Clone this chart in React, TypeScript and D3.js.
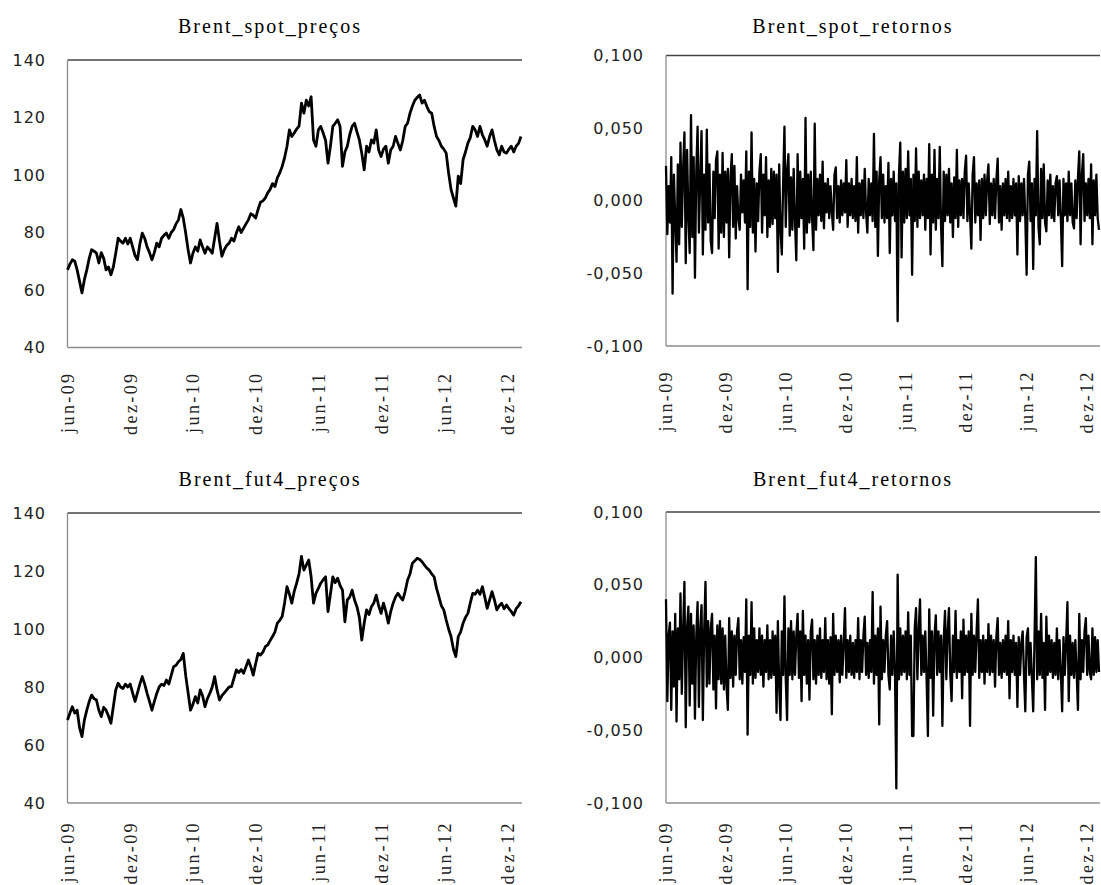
import React from "react";
import * as d3 from "d3";

// weekly closes, first week starting 1 jun 2009
const spotPrecos = [
  67, 69, 70.5, 70, 67, 63, 59, 63.6, 67, 71,
  74, 73.5, 72.8, 69.4, 73, 71, 67, 68, 65.3, 68,
  72.8, 78, 77, 76.3, 78, 76, 78, 75, 72, 70.5,
  76, 79.8, 78, 75, 73, 70.5, 73, 76.3, 75, 78,
  79, 79.8, 78, 80, 81, 83, 84.4, 88, 85, 79.8,
  74, 69.4, 72.8, 75, 73.5, 77.4, 75, 72.8, 75, 74,
  72.8, 78, 83.2, 77, 71.7, 74, 75.5, 76.3, 78, 77,
  79.8, 82, 80, 81.5, 83, 84.4, 86.5, 86, 85, 88,
  90.5, 91, 92, 93.8, 95, 97, 96, 99, 100.7, 103,
  106, 110, 115.7, 113.4, 114.6, 116, 117, 125, 121.5, 126,
  124, 127.2, 112.2, 110, 115.7, 116.9, 114.6, 112, 104.1, 110,
  116.9, 118, 119.2, 116.9, 103, 108, 110, 114, 116.9, 118,
  115, 112.2, 107.6, 101.8, 110, 108, 112.2, 111.1, 115.7, 108.7,
  106.4, 109, 110, 104.1, 108.7, 110, 113.4, 111, 108.7, 112,
  116.9, 118, 121.5, 124, 126, 127, 127.8, 125, 126, 123.8,
  122, 121.5, 116.9, 113.4, 112, 110, 109, 107.6, 100.7, 95,
  92, 89.2, 99.6, 97, 105.3, 108, 111.1, 113, 116.9, 115.7,
  113.4, 116.9, 114, 112.2, 110, 113.4, 115.7, 112, 108.7, 107,
  110, 108, 107.6, 109, 110, 108, 110, 111, 113.4,
];

const fut4Precos = [
  68.6, 71, 73.2, 71, 72, 66, 62.9, 68.6, 72, 75,
  77.2, 76, 75.5, 72, 69.8, 73, 72, 70, 67.5, 73.2,
  79, 81.3, 80, 79.5, 81, 80, 81, 78, 75, 78,
  81, 83.6, 81, 77.8, 75, 72, 75, 77.8, 80, 81,
  80.5, 82.4, 81, 84, 87, 87.5, 88.7, 89.5, 91.6, 84,
  78, 72, 74, 76.7, 74.5, 79, 77, 73.2, 76, 77.8,
  80, 83.6, 79, 75.5, 77, 78, 79, 80, 80.1, 83,
  85.9, 85, 86, 84.7, 87, 89.3, 87, 84.1, 88, 91.6,
  91, 92, 93.9, 94.5, 96, 97.4, 99, 102, 103, 104.3,
  109, 114.6, 112, 108.9, 113, 115.8, 119, 125, 120.3, 122,
  123.8, 118, 108.9, 112.3, 114, 115.8, 117, 118, 106, 112,
  118, 116, 117.5, 115, 113.4, 102.5, 110, 111, 113.4, 110,
  107.7, 104, 96.2, 102, 106.6, 105, 107.7, 109, 111.7, 108,
  105.4, 108.9, 106, 102, 106, 108.9, 111, 112.3, 111, 110,
  113, 116.9, 119, 122.7, 123.5, 124.4, 124, 123.2, 122, 121,
  120.3, 119, 118, 114, 111.1, 108, 106.6, 103.1, 100, 97.4,
  93, 90.5, 97.4, 99, 102, 104, 105.4, 109, 112.3, 112,
  113.4, 112, 114.6, 111, 107.1, 110, 112.9, 110, 106.6, 108,
  108.9, 107, 108.3, 107, 106, 104.8, 107, 108, 109.4,
];

// returns in thousandths, one value every 4 days from 1 jun 2009
const spotRetornos = [
  24, -23, 10, -15, 30, -64, 18, -12, -42, 25,
  -30, 40, -18, 22, 47, -43, 35, -10, -36, 59,
  -25, 30, -53, 20, 51, -22, 15, 48, -37, 18,
  -20, 49, -15, 25, -28, -36, 20, -12, 28, 34,
  -33, 18, -22, 33, -25, 20, -15, 22, -39, 16,
  32, -18, 24, -26, 10, -12, -20, 18, -8, 14,
  -15, 34, -61, 20, -18, 47, -22, 15, -35, 12,
  -14, 20, 32, -22, 18, -10, 30, -25, 14, -18,
  22, -16, 20, -12, 18, -49, 25, -20, -37, 12,
  51, -18, 20, 32, -24, 16, -20, 22, -14, -41,
  32, -18, 20, -12, 15, -33, 57, -22, 18, -15,
  20, -12, -34, 53, -20, 15, -10, 18, -14, 27,
  -19, 12, -8, 15, -12, 10, -8, -20, 18, 23,
  -12, 10, -15, 14, -10, 12, -8, 28, -18, 12,
  -10, 15, -12, 10, -14, 30, -22, 12, -10, 14,
  -12, 22, -8, -22, 15, -10, 12, -14, 46, -18,
  20, -38, 14, 30, -12, 18, -15, 10, -12, 26,
  -36, 15, -10, 20, -14, 12, -83, 18, 40, -39,
  20, -15, 22, -12, 34, -10, 15, -51, 18, -14,
  36, -18, 20, -12, 14, -10, 18, -20, 15, -12,
  39, -37, 18, -15, 35, -20, 15, -12, 37, -18,
  -45, 20, -14, 18, -10, 22, -15, 12, -25, 16,
  -12, 35, -18, 14, -10, 15, -12, 20, 31, -14,
  12, -10, -33, 18, 30, -15, 12, -10, 14, -27,
  15, -12, 18, -10, 14, 25, -16, 12, -10, 15,
  -12, 14, 29, -15, 10, -20, 12, -10, 15, -12,
  20, -14, 10, -12, 15, -10, 12, -37, 17, -14,
  12, -10, 15, -12, -51, 18, 27, -14, 12, -47,
  15, -10, 48, -18, -30, 22, -12, 25, -15, -21,
  14, -10, 18, -12, 10, -14, 12, 17, -10, 14,
  -12, -45, 15, -10, 12, -14, 20, -10, 12, -15,
  -19, 14, -12, 16, 34, -30, 18, 32, -14, 12,
  -10, 15, -12, 25, -30, 14, -10, 18, -12, -20,
];

const fut4Retornos = [
  40, -30, 15, 24, -36, 18, -20, 30, -44, 20,
  -15, 44, -25, 18, 52, -48, 20, 35, -33, 30,
  -18, 22, -42, 15, 38, -34, 20, 36, -43, 18,
  52, -20, 25, -18, 20, 30, -22, 15, -35, 22,
  -15, 25, -18, 20, -22, 15, -20, -36, 27, -14,
  18, -20, 15, -12, 18, 27, -15, 12, -18, 14,
  -10, 40, -53, 15, -12, 38, -18, 20, -14, 12,
  -10, 20, -12, 15, -20, 12, -10, 22, -15, 12,
  -14, 18, -12, 15, -38, 25, -20, -43, 18, -12,
  42, -15, -43, 20, -12, 25, -15, 18, -12, 15,
  30, -14, 18, -30, 32, -12, 15, -18, 12, -29,
  18, 26, -15, 12, -18, 15, -12, 20, -14, 12,
  -10, 27, -15, 12, -18, 14, -39, 30, -12, 15,
  -10, 12, -17, 15, -12, 10, 34, -14, 12, -10,
  15, -12, 10, -14, 12, -10, 27, -15, 12, -10,
  15, 28, -12, 10, -14, 12, -10, 45, -18, 15,
  -12, 20, -46, 35, -15, 12, -10, 15, 25, -12,
  -22, 15, -12, 18, -10, -90, 57, -15, 20, -12,
  15, -10, 18, -15, 31, -12, 15, -54, -54, 20,
  34, -15, 18, 40, -12, 15, -10, 18, -15, -54,
  33, -14, 18, -40, 15, 29, -12, 18, -10, 15,
  -47, 12, 32, -15, 18, 34, -12, -30, 15, -10,
  32, -14, 12, -10, 18, -28, 26, -12, 15, -10,
  18, -47, 30, -12, 15, -10, 18, 40, -14, 12,
  -10, 15, -18, 12, -10, 23, -12, 15, -10, 12,
  -20, 14, 27, -12, 10, -14, 12, -10, 15, -12,
  25, -28, 12, -10, 15, -12, 10, -34, 14, -12,
  10, 18, -12, -37, 14, 20, -12, 10, -14, -37,
  12, 69, -15, 18, -12, 30, -14, 10, -36, 28,
  -12, 15, -10, 12, -14, 10, -12, 20, -15, 12,
  -10, -37, 14, -12, 10, 38, -30, 15, -12, 10,
  -14, 12, -10, -36, 30, -15, 12, -10, 18, 27,
  -12, 15, -10, -15, 20, -12, 14, -10, 12, -10,
];

const tickDates = [
  "2009-06-01", "2009-12-01", "2010-06-01", "2010-12-01",
  "2011-06-01", "2011-12-01", "2012-06-01", "2012-12-01",
];
const tickLabels = ["jun-09", "dez-09", "jun-10", "dez-10", "jun-11", "dez-11", "jun-12", "dez-12"];

const precoTicks = [40, 60, 80, 100, 120, 140];
const precoTickLabels = ["40", "60", "80", "100", "120", "140"];
const retornoTicks = [-100, -50, 0, 50, 100];
const retornoTickLabels = ["-0,100", "-0,050", "0,000", "0,050", "0,100"];

const startDate = new Date(2009, 5, 1);
const endDate = new Date(2013, 0, 10);

const parseDay = d3.timeParse("%Y-%m-%d");

function Panel(props) {
  const { title, values, stepDays, yDomain, ticks, labels, x0, x1, yTop, yBottom, labelRight, labelGap, titleX, titleY, strokeWidth } = props;

  const xScale = d3.scaleTime().domain([startDate, endDate]).range([x0, x1]);
  const yScale = d3.scaleLinear().domain(yDomain).range([yBottom, yTop]);

  const line = d3
    .line<number>()
    .x((d, i) => xScale(d3.timeDay.offset(startDate, i * stepDays)))
    .y((d) => yScale(d));

  return (
    <g>
      <text
        x={titleX}
        y={titleY}
        textAnchor="middle"
        fontFamily="'Liberation Serif', 'Times New Roman', serif"
        fontSize={20}
        letterSpacing={2}
        fill="#000"
      >
        {title}
      </text>

      {/* eixo y */}
      {ticks.map((t, i) => (
        <text
          key={t}
          x={labelRight}
          y={yScale(t)}
          textAnchor="end"
          dominantBaseline="central"
          fontFamily="'DejaVu Sans', Verdana, sans-serif"
          fontSize={16}
          letterSpacing={1}
          fill="#222"
        >
          {labels[i]}
        </text>
      ))}

      {/* eixo x */}
      {tickDates.map((d, i) => {
        const tx = xScale(parseDay(d));
        const ty = yBottom + labelGap;
        return (
          <text
            key={d}
            transform={`translate(${tx},${ty}) rotate(-90)`}
            textAnchor="end"
            dominantBaseline="central"
            fontFamily="'Liberation Serif', 'Times New Roman', serif"
            fontSize={18}
            letterSpacing={2.4}
            fill="#222"
          >
            {tickLabels[i]}
          </text>
        );
      })}

      <line x1={x0} x2={x1} y1={yTop} y2={yTop} stroke="#444" strokeWidth={1.3} />
      <line x1={x0} x2={x0} y1={yTop} y2={yBottom} stroke="#8c8c8c" strokeWidth={1.3} />
      <line x1={x0} x2={x1} y1={yBottom} y2={yBottom} stroke="#8c8c8c" strokeWidth={1.3} />

      <path d={line(values)} fill="none" stroke="#000" strokeWidth={strokeWidth} strokeLinejoin="round" />
    </g>
  );
}

export default function App() {
  return (
    <svg
      width={1101}
      height={885}
      style={{ position: "absolute", left: 0, top: 0, background: "#fff" }}
    >
      <rect width={1101} height={885} fill="#fff" />
      <Panel
        title="Brent_spot_preços"
        values={spotPrecos}
        stepDays={7}
        yDomain={[40, 140]}
        ticks={precoTicks}
        labels={precoTickLabels}
        x0={67.5}
        x1={522}
        yTop={60}
        yBottom={347.5}
        labelRight={46}
        labelGap={24}
        titleX={270}
        titleY={33}
        strokeWidth={2.8}
      />
      <Panel
        title="Brent_spot_retornos"
        values={spotRetornos}
        stepDays={4}
        yDomain={[-100, 100]}
        ticks={retornoTicks}
        labels={retornoTickLabels}
        x0={666}
        x1={1100}
        yTop={55.5}
        yBottom={346}
        labelRight={644}
        labelGap={24}
        titleX={853}
        titleY={33}
        strokeWidth={2.3}
      />
      <Panel
        title="Brent_fut4_preços"
        values={fut4Precos}
        stepDays={7}
        yDomain={[40, 140]}
        ticks={precoTicks}
        labels={precoTickLabels}
        x0={67.5}
        x1={522}
        yTop={513}
        yBottom={803}
        labelRight={46}
        labelGap={18}
        titleX={270}
        titleY={486}
        strokeWidth={2.8}
      />
      <Panel
        title="Brent_fut4_retornos"
        values={fut4Retornos}
        stepDays={4}
        yDomain={[-100, 100]}
        ticks={retornoTicks}
        labels={retornoTickLabels}
        x0={666}
        x1={1100}
        yTop={512}
        yBottom={803}
        labelRight={644}
        labelGap={18}
        titleX={853}
        titleY={486}
        strokeWidth={2.3}
      />
    </svg>
  );
}
